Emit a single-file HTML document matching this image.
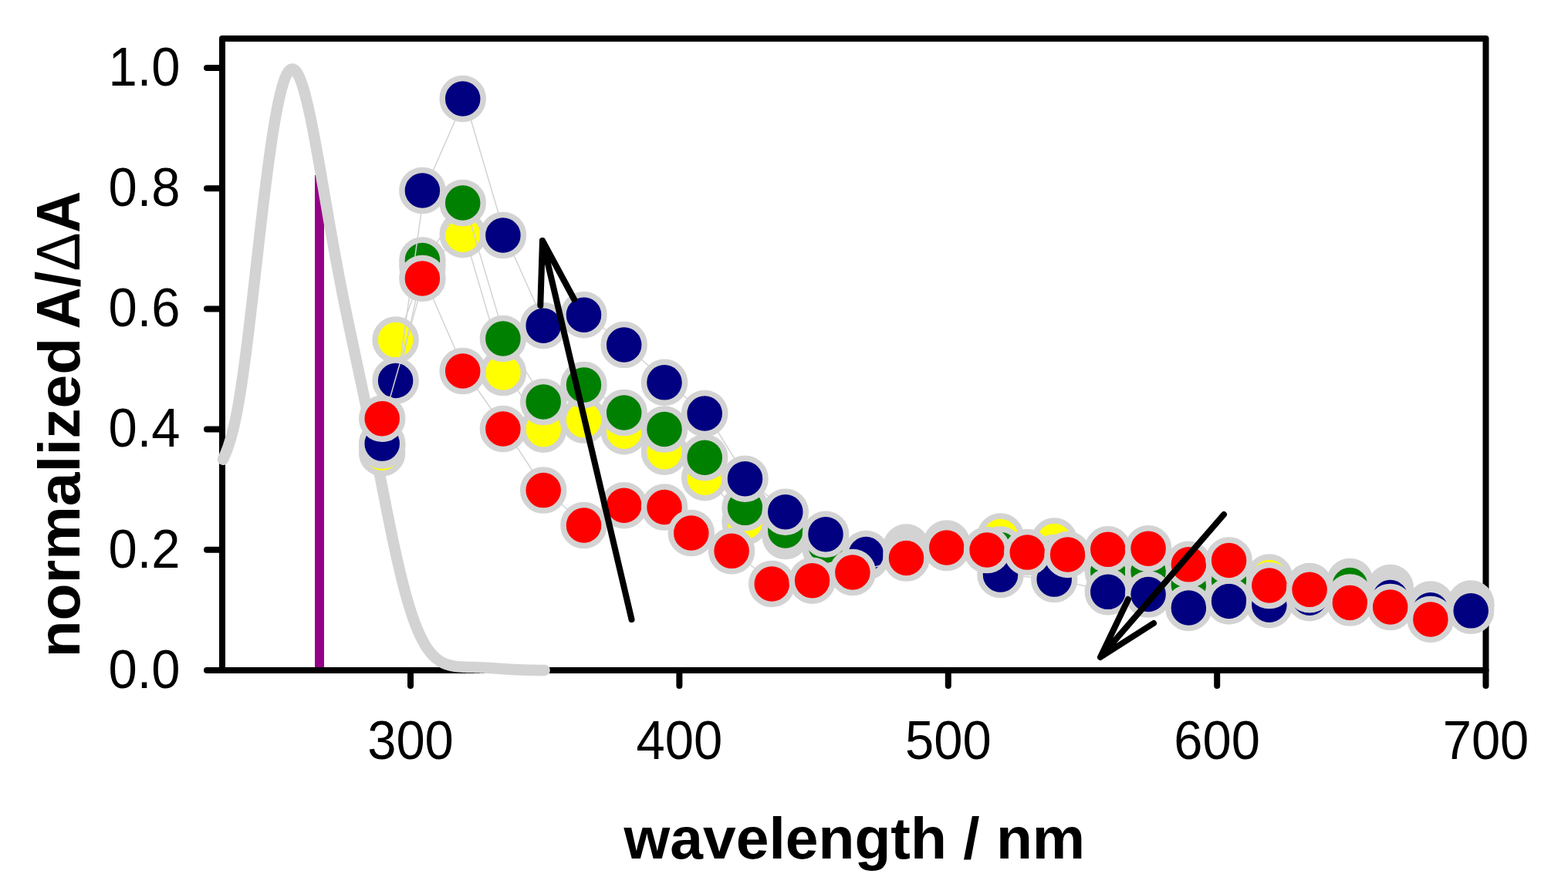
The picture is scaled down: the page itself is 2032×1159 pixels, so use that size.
<!DOCTYPE html>
<html><head><meta charset="utf-8"><title>normalized A/&#916;A vs wavelength</title>
<style>html,body{margin:0;padding:0;background:#fff;}body{width:2032px;height:1159px;overflow:hidden;}svg{display:block;}</style>
</head><body>
<svg width="2032" height="1159" viewBox="0 0 2032 1159">
<rect x="0" y="0" width="2032" height="1159" fill="#ffffff"/>
<g stroke="#000" stroke-width="8" fill="none" stroke-linecap="round" stroke-linejoin="round">
<path d="M 288 50 L 1925.5 50 L 1925.5 869 L 288 869 Z"/>
<line x1="268" y1="869" x2="288" y2="869"/>
<line x1="268" y1="712.8" x2="288" y2="712.8"/>
<line x1="268" y1="556.6" x2="288" y2="556.6"/>
<line x1="268" y1="400.4" x2="288" y2="400.4"/>
<line x1="268" y1="244.2" x2="288" y2="244.2"/>
<line x1="268" y1="88" x2="288" y2="88"/>
<line x1="532" y1="869" x2="532" y2="889"/>
<line x1="880.4" y1="869" x2="880.4" y2="889"/>
<line x1="1228.8" y1="869" x2="1228.8" y2="889"/>
<line x1="1577.2" y1="869" x2="1577.2" y2="889"/>
<line x1="1925.5" y1="869" x2="1925.5" y2="889"/>
</g>
<text font-family="Liberation Sans, Arial, sans-serif" font-size="71" fill="#000" transform="translate(233.5 891.8) scale(0.943 1)" text-anchor="end">0.0</text>
<text font-family="Liberation Sans, Arial, sans-serif" font-size="71" fill="#000" transform="translate(233.5 735.6) scale(0.943 1)" text-anchor="end">0.2</text>
<text font-family="Liberation Sans, Arial, sans-serif" font-size="71" fill="#000" transform="translate(233.5 579.4) scale(0.943 1)" text-anchor="end">0.4</text>
<text font-family="Liberation Sans, Arial, sans-serif" font-size="71" fill="#000" transform="translate(233.5 423.2) scale(0.943 1)" text-anchor="end">0.6</text>
<text font-family="Liberation Sans, Arial, sans-serif" font-size="71" fill="#000" transform="translate(233.5 267) scale(0.943 1)" text-anchor="end">0.8</text>
<text font-family="Liberation Sans, Arial, sans-serif" font-size="71" fill="#000" transform="translate(233.5 110.8) scale(0.943 1)" text-anchor="end">1.0</text>
<text font-family="Liberation Sans, Arial, sans-serif" font-size="71" fill="#000" transform="translate(532 983.5) scale(0.943 1)" text-anchor="middle">300</text>
<text font-family="Liberation Sans, Arial, sans-serif" font-size="71" fill="#000" transform="translate(880.4 983.5) scale(0.943 1)" text-anchor="middle">400</text>
<text font-family="Liberation Sans, Arial, sans-serif" font-size="71" fill="#000" transform="translate(1228.8 983.5) scale(0.943 1)" text-anchor="middle">500</text>
<text font-family="Liberation Sans, Arial, sans-serif" font-size="71" fill="#000" transform="translate(1577.2 983.5) scale(0.943 1)" text-anchor="middle">600</text>
<text font-family="Liberation Sans, Arial, sans-serif" font-size="71" fill="#000" transform="translate(1925.5 983.5) scale(0.943 1)" text-anchor="middle">700</text>
<text transform="translate(1107.3 1113) scale(1.011 1)" text-anchor="middle" font-family="Liberation Sans, Arial, sans-serif" font-weight="bold" font-size="76">wavelength / nm</text>
<text transform="translate(103 852.6) rotate(-90) scale(1.034 1)" font-family="Liberation Sans, Arial, sans-serif" font-weight="bold" font-size="76">normalized</text>
<text transform="translate(103 247.6) rotate(-90) scale(0.935 1)" text-anchor="end" font-family="Liberation Sans, Arial, sans-serif" font-weight="bold" font-size="80">A/<tspan font-weight="normal">&#916;</tspan>A</text>
<rect x="408" y="227" width="12" height="638" fill="#950086"/>
<path d="M 289.0 595.7 L 290.0 593.4 L 291.0 591.0 L 292.0 588.6 L 293.0 586.2 L 294.0 583.6 L 295.0 580.9 L 296.0 578.1 L 297.0 575.1 L 298.0 572.0 L 299.0 568.6 L 300.0 565.1 L 301.0 561.4 L 302.0 557.5 L 303.0 553.3 L 304.0 548.9 L 305.0 544.3 L 306.0 539.4 L 307.0 534.3 L 308.0 529.0 L 309.0 523.4 L 310.0 517.6 L 311.0 511.5 L 312.0 505.2 L 313.0 498.7 L 314.0 491.9 L 315.0 485.0 L 316.0 477.8 L 317.0 470.5 L 318.0 462.9 L 319.0 455.2 L 320.0 447.4 L 321.0 439.4 L 322.0 431.2 L 323.0 422.9 L 324.0 414.6 L 325.0 406.1 L 326.0 397.5 L 327.0 388.8 L 328.0 380.1 L 329.0 371.4 L 330.0 362.6 L 331.0 353.8 L 332.0 344.9 L 333.0 336.1 L 334.0 327.3 L 335.0 318.5 L 336.0 309.7 L 337.0 301.0 L 338.0 292.4 L 339.0 283.8 L 340.0 275.3 L 341.0 266.9 L 342.0 258.6 L 343.0 250.4 L 344.0 242.3 L 345.0 234.4 L 346.0 226.6 L 347.0 218.9 L 348.0 211.4 L 349.0 204.1 L 350.0 196.9 L 351.0 189.9 L 352.0 183.1 L 353.0 176.5 L 354.0 170.1 L 355.0 163.9 L 356.0 158.0 L 357.0 152.2 L 358.0 146.7 L 359.0 141.4 L 360.0 136.4 L 361.0 131.5 L 362.0 127.0 L 363.0 122.7 L 364.0 118.6 L 365.0 114.8 L 366.0 111.3 L 367.0 108.0 L 368.0 105.0 L 369.0 102.2 L 370.0 99.7 L 371.0 97.5 L 372.0 95.6 L 373.0 93.9 L 374.0 92.5 L 375.0 91.4 L 376.0 90.5 L 377.0 89.9 L 378.0 89.6 L 379.0 89.5 L 380.0 89.7 L 381.0 90.2 L 382.0 90.9 L 383.0 91.8 L 384.0 93.0 L 385.0 94.5 L 386.0 96.2 L 387.0 98.1 L 388.0 100.2 L 389.0 102.6 L 390.0 105.2 L 391.0 108.0 L 392.0 111.0 L 393.0 114.2 L 394.0 117.6 L 395.0 121.2 L 396.0 124.9 L 397.0 128.9 L 398.0 132.9 L 399.0 137.2 L 400.0 141.6 L 401.0 146.1 L 402.0 150.8 L 403.0 155.6 L 404.0 160.5 L 405.0 165.6 L 406.0 170.7 L 407.0 175.9 L 408.0 181.3 L 409.0 186.7 L 410.0 192.1 L 411.0 197.7 L 412.0 203.3 L 413.0 208.9 L 414.0 214.6 L 415.0 220.3 L 416.0 226.1 L 417.0 231.9 L 418.0 237.7 L 419.0 243.5 L 420.0 249.4 L 421.0 255.2 L 422.0 261.0 L 423.0 266.8 L 424.0 272.6 L 425.0 278.4 L 426.0 284.2 L 427.0 289.9 L 428.0 295.7 L 429.0 301.4 L 430.0 307.0 L 431.0 312.6 L 432.0 318.2 L 433.0 323.8 L 434.0 329.3 L 435.0 334.7 L 436.0 340.1 L 437.0 345.5 L 438.0 350.8 L 439.0 356.1 L 440.0 361.3 L 441.0 366.5 L 442.0 371.7 L 443.0 376.8 L 444.0 381.9 L 445.0 386.9 L 446.0 391.9 L 447.0 396.8 L 448.0 401.7 L 449.0 406.6 L 450.0 411.5 L 451.0 416.3 L 452.0 421.1 L 453.0 425.9 L 454.0 430.6 L 455.0 435.3 L 456.0 440.1 L 457.0 444.8 L 458.0 449.4 L 459.0 454.1 L 460.0 458.8 L 461.0 463.5 L 462.0 468.1 L 463.0 472.8 L 464.0 477.5 L 465.0 482.2 L 466.0 486.9 L 467.0 491.6 L 468.0 496.3 L 469.0 501.0 L 470.0 505.7 L 471.0 510.5 L 472.0 515.3 L 473.0 520.0 L 474.0 524.9 L 475.0 529.7 L 476.0 534.5 L 477.0 539.4 L 478.0 544.3 L 479.0 549.2 L 480.0 554.1 L 481.0 559.1 L 482.0 564.1 L 483.0 569.1 L 484.0 574.1 L 485.0 579.1 L 486.0 584.1 L 487.0 589.2 L 488.0 594.3 L 489.0 599.3 L 490.0 604.4 L 491.0 609.5 L 492.0 614.6 L 493.0 619.7 L 494.0 624.8 L 495.0 629.9 L 496.0 635.0 L 497.0 640.1 L 498.0 645.2 L 499.0 650.2 L 500.0 655.3 L 501.0 660.3 L 502.0 665.3 L 503.0 670.2 L 504.0 675.2 L 505.0 680.1 L 506.0 685.0 L 507.0 689.8 L 508.0 694.6 L 509.0 699.4 L 510.0 704.1 L 511.0 708.7 L 512.0 713.3 L 513.0 717.9 L 514.0 722.4 L 515.0 726.8 L 516.0 731.2 L 517.0 735.5 L 518.0 739.8 L 519.0 743.9 L 520.0 748.0 L 521.0 752.1 L 522.0 756.0 L 523.0 759.9 L 524.0 763.7 L 525.0 767.5 L 526.0 771.1 L 527.0 774.7 L 528.0 778.2 L 529.0 781.6 L 530.0 784.9 L 531.0 788.2 L 532.0 791.4 L 533.0 794.5 L 534.0 797.5 L 535.0 800.4 L 536.0 803.2 L 537.0 806.0 L 538.0 808.6 L 539.0 811.2 L 540.0 813.7 L 541.0 816.2 L 542.0 818.5 L 543.0 820.8 L 544.0 823.0 L 545.0 825.1 L 546.0 827.1 L 547.0 829.1 L 548.0 831.0 L 549.0 832.8 L 550.0 834.6 L 551.0 836.3 L 552.0 837.9 L 553.0 839.4 L 554.0 840.9 L 555.0 842.3 L 556.0 843.7 L 557.0 844.9 L 558.0 846.2 L 559.0 847.4 L 560.0 848.5 L 561.0 849.5 L 562.0 850.6 L 563.0 851.5 L 564.0 852.4 L 565.0 853.3 L 566.0 854.1 L 567.0 854.9 L 568.0 855.6 L 569.0 856.3 L 570.0 857.0 L 571.0 857.6 L 572.0 858.2 L 573.0 858.7 L 574.0 859.2 L 575.0 859.7 L 576.0 860.1 L 577.0 860.5 L 578.0 860.9 L 579.0 861.3 L 580.0 861.6 L 581.0 861.9 L 582.0 862.2 L 583.0 862.5 L 584.0 862.7 L 585.0 863.0 L 586.0 863.2 L 587.0 863.4 L 588.0 863.5 L 589.0 863.7 L 590.0 863.8 L 591.0 864.0 L 592.0 864.1 L 593.0 864.2 L 594.0 864.3 L 595.0 864.4 L 596.0 864.5 L 597.0 864.5 L 598.0 864.6 L 599.0 864.6 L 600.0 864.7 L 601.0 864.7 L 602.0 864.8 L 603.0 864.8 L 604.0 864.9 L 605.0 864.9 L 606.0 864.9 L 607.0 864.9 L 608.0 865.0 L 609.0 865.0 L 610.0 865.0 L 611.0 865.0 L 612.0 865.1 L 613.0 865.1 L 614.0 865.1 L 615.0 865.1 L 616.0 865.2 L 617.0 865.2 L 618.0 865.2 L 619.0 865.3 L 620.0 865.3 L 621.0 865.3 L 622.0 865.4 L 623.0 865.4 L 624.0 865.4 L 625.0 865.5 L 626.0 865.5 L 627.0 865.6 L 628.0 865.6 L 629.0 865.7 L 630.0 865.7 L 631.0 865.8 L 632.0 865.8 L 633.0 865.9 L 634.0 865.9 L 635.0 866.0 L 636.0 866.1 L 637.0 866.1 L 638.0 866.2 L 639.0 866.3 L 640.0 866.3 L 641.0 866.4 L 642.0 866.5 L 643.0 866.5 L 644.0 866.6 L 645.0 866.7 L 646.0 866.8 L 647.0 866.8 L 648.0 866.9 L 649.0 867.0 L 650.0 867.0 L 651.0 867.1 L 652.0 867.2 L 653.0 867.2 L 654.0 867.3 L 655.0 867.4 L 656.0 867.4 L 657.0 867.5 L 658.0 867.6 L 659.0 867.6 L 660.0 867.7 L 661.0 867.7 L 662.0 867.8 L 663.0 867.9 L 664.0 867.9 L 665.0 868.0 L 666.0 868.0 L 667.0 868.1 L 668.0 868.1 L 669.0 868.2 L 670.0 868.2 L 671.0 868.3 L 672.0 868.3 L 673.0 868.3 L 674.0 868.4 L 675.0 868.4 L 676.0 868.4 L 677.0 868.5 L 678.0 868.5 L 679.0 868.5 L 680.0 868.6 L 681.0 868.6 L 682.0 868.6 L 683.0 868.7 L 684.0 868.7 L 685.0 868.7 L 686.0 868.7 L 687.0 868.7 L 688.0 868.8 L 689.0 868.8 L 690.0 868.8 L 691.0 868.8 L 692.0 868.8 L 693.0 868.8 L 694.0 868.8 L 695.0 868.9 L 696.0 868.9 L 697.0 868.9 L 698.0 868.9 L 699.0 868.9 L 700.0 868.9 L 701.0 868.9 L 702.0 868.9 L 703.0 868.9 L 704.0 868.9 L 705.0 868.9 L 705.6 868.9" fill="none" stroke="#d3d3d3" stroke-width="14.5" stroke-linecap="round" stroke-linejoin="round"/>
<polyline points="497.7,587.2 515.1,440.6 549.9,345.0 602.2,304.2 654.4,483.0 706.7,556.7 759.0,544.6 811.2,559.2 863.5,585.7 915.7,619.2 968.0,676.5 1020.3,695.0 1072.5,712.0 1124.8,718.0 1177.0,709.5 1229.3,704.4 1299.0,695.4 1368.7,701.6 1438.3,738.0 1490.6,738.0 1542.9,752.0 1595.1,748.0 1647.4,748.5 1699.6,760.0 1751.9,754.0 1804.2,762.0 1856.4,783.5 1908.7,782.5" fill="none" stroke="#d3d3d3" stroke-width="1.5"/>
<g fill="#ffff00" stroke="#d3d3d3" stroke-width="7.5">
<circle cx="495.2" cy="587.2" r="26.5"/>
<circle cx="512.6" cy="440.6" r="26.5"/>
<circle cx="547.4" cy="345.0" r="26.5"/>
<circle cx="599.7" cy="304.2" r="26.5"/>
<circle cx="651.9" cy="483.0" r="26.5"/>
<circle cx="704.2" cy="556.7" r="26.5"/>
<circle cx="756.5" cy="544.6" r="26.5"/>
<circle cx="808.7" cy="559.2" r="26.5"/>
<circle cx="861.0" cy="585.7" r="26.5"/>
<circle cx="913.2" cy="619.2" r="26.5"/>
<circle cx="965.5" cy="676.5" r="26.5"/>
<circle cx="1017.8" cy="695.0" r="26.5"/>
<circle cx="1070.0" cy="712.0" r="26.5"/>
<circle cx="1122.3" cy="718.0" r="26.5"/>
<circle cx="1174.5" cy="709.5" r="26.5"/>
<circle cx="1226.8" cy="704.4" r="26.5"/>
<circle cx="1296.5" cy="695.4" r="26.5"/>
<circle cx="1366.2" cy="701.6" r="26.5"/>
<circle cx="1435.8" cy="738.0" r="26.5"/>
<circle cx="1488.1" cy="738.0" r="26.5"/>
<circle cx="1540.4" cy="752.0" r="26.5"/>
<circle cx="1592.6" cy="748.0" r="26.5"/>
<circle cx="1644.9" cy="748.5" r="26.5"/>
<circle cx="1697.1" cy="760.0" r="26.5"/>
<circle cx="1749.4" cy="754.0" r="26.5"/>
<circle cx="1801.7" cy="762.0" r="26.5"/>
<circle cx="1853.9" cy="783.5" r="26.5"/>
<circle cx="1906.2" cy="782.5" r="26.5"/>
</g>
<polyline points="497.7,577.5 549.9,337.4 602.2,263.0 654.4,439.0 706.7,521.0 759.0,498.9 811.2,535.0 863.5,556.5 915.7,593.2 968.0,658.3 1020.3,688.0 1072.5,707.0 1124.8,722.0 1177.0,714.0 1229.3,706.5 1299.0,712.5 1368.7,723.0 1438.3,741.0 1490.6,741.0 1542.9,758.0 1595.1,752.8 1647.4,761.5 1699.6,768.0 1751.9,758.6 1804.2,768.0 1856.4,788.0 1908.7,785.0" fill="none" stroke="#d3d3d3" stroke-width="1.5"/>
<g fill="#008000" stroke="#d3d3d3" stroke-width="7.5">
<circle cx="495.2" cy="577.5" r="26.5"/>
<circle cx="547.4" cy="337.4" r="26.5"/>
<circle cx="599.7" cy="263.0" r="26.5"/>
<circle cx="651.9" cy="439.0" r="26.5"/>
<circle cx="704.2" cy="521.0" r="26.5"/>
<circle cx="756.5" cy="498.9" r="26.5"/>
<circle cx="808.7" cy="535.0" r="26.5"/>
<circle cx="861.0" cy="556.5" r="26.5"/>
<circle cx="913.2" cy="593.2" r="26.5"/>
<circle cx="965.5" cy="658.3" r="26.5"/>
<circle cx="1017.8" cy="688.0" r="26.5"/>
<circle cx="1070.0" cy="707.0" r="26.5"/>
<circle cx="1122.3" cy="722.0" r="26.5"/>
<circle cx="1174.5" cy="714.0" r="26.5"/>
<circle cx="1226.8" cy="706.5" r="26.5"/>
<circle cx="1296.5" cy="712.5" r="26.5"/>
<circle cx="1366.2" cy="723.0" r="26.5"/>
<circle cx="1435.8" cy="741.0" r="26.5"/>
<circle cx="1488.1" cy="741.0" r="26.5"/>
<circle cx="1540.4" cy="758.0" r="26.5"/>
<circle cx="1592.6" cy="752.8" r="26.5"/>
<circle cx="1644.9" cy="761.5" r="26.5"/>
<circle cx="1697.1" cy="768.0" r="26.5"/>
<circle cx="1749.4" cy="758.6" r="26.5"/>
<circle cx="1801.7" cy="768.0" r="26.5"/>
<circle cx="1853.9" cy="788.0" r="26.5"/>
<circle cx="1906.2" cy="785.0" r="26.5"/>
</g>
<polyline points="497.7,575.1 515.1,493.5 549.9,247.0 602.2,128.0 654.4,305.0 706.7,422.2 759.0,408.2 811.2,447.0 863.5,495.8 915.7,536.0 968.0,620.7 1020.3,663.7 1072.5,692.7 1124.8,718.5 1177.0,718.0 1229.3,708.0 1299.0,745.0 1368.7,751.1 1438.3,767.3 1490.6,770.5 1542.9,787.9 1595.1,779.4 1647.4,784.2 1699.6,775.2 1751.9,774.5 1804.2,774.6 1856.4,790.7 1908.7,791.8" fill="none" stroke="#d3d3d3" stroke-width="1.5"/>
<g fill="#000080" stroke="#d3d3d3" stroke-width="7.5">
<circle cx="495.2" cy="575.1" r="26.5"/>
<circle cx="512.6" cy="493.5" r="26.5"/>
<circle cx="547.4" cy="247.0" r="26.5"/>
<circle cx="599.7" cy="128.0" r="26.5"/>
<circle cx="651.9" cy="305.0" r="26.5"/>
<circle cx="704.2" cy="422.2" r="26.5"/>
<circle cx="756.5" cy="408.2" r="26.5"/>
<circle cx="808.7" cy="447.0" r="26.5"/>
<circle cx="861.0" cy="495.8" r="26.5"/>
<circle cx="913.2" cy="536.0" r="26.5"/>
<circle cx="965.5" cy="620.7" r="26.5"/>
<circle cx="1017.8" cy="663.7" r="26.5"/>
<circle cx="1070.0" cy="692.7" r="26.5"/>
<circle cx="1122.3" cy="718.5" r="26.5"/>
<circle cx="1174.5" cy="718.0" r="26.5"/>
<circle cx="1226.8" cy="708.0" r="26.5"/>
<circle cx="1296.5" cy="745.0" r="26.5"/>
<circle cx="1366.2" cy="751.1" r="26.5"/>
<circle cx="1435.8" cy="767.3" r="26.5"/>
<circle cx="1488.1" cy="770.5" r="26.5"/>
<circle cx="1540.4" cy="787.9" r="26.5"/>
<circle cx="1592.6" cy="779.4" r="26.5"/>
<circle cx="1644.9" cy="784.2" r="26.5"/>
<circle cx="1697.1" cy="775.2" r="26.5"/>
<circle cx="1749.4" cy="774.5" r="26.5"/>
<circle cx="1801.7" cy="774.6" r="26.5"/>
<circle cx="1853.9" cy="790.7" r="26.5"/>
<circle cx="1906.2" cy="791.8" r="26.5"/>
</g>
<polyline points="497.7,542.7 549.9,360.9 602.2,481.0 654.4,556.0 706.7,635.6 759.0,681.0 811.2,655.2 863.5,657.5 898.3,691.0 950.6,714.3 1002.8,757.0 1055.1,752.7 1107.4,742.0 1177.0,723.5 1229.3,710.0 1281.6,713.0 1333.8,716.1 1386.1,718.9 1438.3,712.3 1490.6,711.2 1542.9,731.8 1595.1,726.5 1647.4,759.0 1699.6,764.3 1751.9,781.5 1804.2,787.0 1856.4,802.9" fill="none" stroke="#d3d3d3" stroke-width="1.5"/>
<g fill="#ff0000" stroke="#d3d3d3" stroke-width="7.5">
<circle cx="495.2" cy="542.7" r="26.5"/>
<circle cx="547.4" cy="360.9" r="26.5"/>
<circle cx="599.7" cy="481.0" r="26.5"/>
<circle cx="651.9" cy="556.0" r="26.5"/>
<circle cx="704.2" cy="635.6" r="26.5"/>
<circle cx="756.5" cy="681.0" r="26.5"/>
<circle cx="808.7" cy="655.2" r="26.5"/>
<circle cx="861.0" cy="657.5" r="26.5"/>
<circle cx="895.8" cy="691.0" r="26.5"/>
<circle cx="948.1" cy="714.3" r="26.5"/>
<circle cx="1000.3" cy="757.0" r="26.5"/>
<circle cx="1052.6" cy="752.7" r="26.5"/>
<circle cx="1104.9" cy="742.0" r="26.5"/>
<circle cx="1174.5" cy="723.5" r="26.5"/>
<circle cx="1226.8" cy="710.0" r="26.5"/>
<circle cx="1279.1" cy="713.0" r="26.5"/>
<circle cx="1331.3" cy="716.1" r="26.5"/>
<circle cx="1383.6" cy="718.9" r="26.5"/>
<circle cx="1435.8" cy="712.3" r="26.5"/>
<circle cx="1488.1" cy="711.2" r="26.5"/>
<circle cx="1540.4" cy="731.8" r="26.5"/>
<circle cx="1592.6" cy="726.5" r="26.5"/>
<circle cx="1644.9" cy="759.0" r="26.5"/>
<circle cx="1697.1" cy="764.3" r="26.5"/>
<circle cx="1749.4" cy="781.5" r="26.5"/>
<circle cx="1801.7" cy="787.0" r="26.5"/>
<circle cx="1853.9" cy="802.9" r="26.5"/>
</g>
<g stroke="#000" stroke-width="8" fill="none" stroke-linecap="round" stroke-linejoin="round">
<path d="M 818.5 803 L 703 312 M 700.3 396 L 703 312 L 744 388"/>
<path d="M 1586 667 L 1426 852 M 1462 777 L 1426 852 L 1495 808"/>
</g>
</svg>
</body></html>
